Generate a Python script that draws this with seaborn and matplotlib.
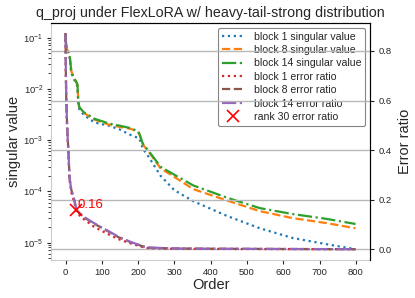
import pandas as pd
import seaborn as sns
import matplotlib.pyplot as plt

# Singular values (left, log axis)
sv_order = [0, 1, 3, 6, 11, 16, 22, 30, 33, 35, 38, 50, 80, 120, 150, 180, 200,
            204, 213, 230, 262, 300, 352, 445, 535, 625, 718, 799]
sv_block1 = [0.12, 0.08, 0.06, 0.05, 0.042, 0.02, 0.016, 0.0125, 0.011, 0.0052, 0.0040,
             0.0031, 0.0022, 0.0019, 0.0016, 0.00125, 0.0011, 0.00105, 0.00068, 0.00046,
             0.00020, 0.000105, 0.000064, 0.000033, 0.000019, 0.0000123, 0.0000093, 0.0000074]
sv_block8 = [0.12, 0.083, 0.063, 0.055, 0.047, 0.022, 0.017, 0.0133, 0.0118, 0.0059, 0.0043,
             0.0034, 0.0025, 0.0020, 0.0018, 0.00165, 0.00145, 0.00127, 0.00082, 0.00058,
             0.00028, 0.00019, 0.00011, 0.000066, 0.000041, 0.000030, 0.000024, 0.000019]
sv_block14 = [0.12, 0.085, 0.065, 0.056, 0.048, 0.022, 0.017, 0.0135, 0.012, 0.0060, 0.0044,
              0.0035, 0.0026, 0.0021, 0.0019, 0.0017, 0.00148, 0.0013, 0.00085, 0.00060,
              0.00030, 0.00021, 0.00013, 0.000075, 0.000047, 0.000036, 0.000029, 0.000023]

# Error ratios (right axis)
er_order = [0, 1, 2, 4, 6, 8, 11, 16, 20, 25, 30, 40, 52, 80, 117, 145, 180, 216, 230,
            300, 400, 600, 799]
er_block1 = [0.87, 0.70, 0.60, 0.50, 0.44, 0.39, 0.28, 0.23, 0.21, 0.185, 0.155, 0.135,
             0.12, 0.09, 0.062, 0.042, 0.024, 0.008, 0.005, 0.003, 0.002, 0.0015, 0.001]
er_block8 = [0.87, 0.71, 0.61, 0.52, 0.45, 0.40, 0.29, 0.24, 0.22, 0.194, 0.16, 0.144,
             0.128, 0.103, 0.073, 0.05, 0.029, 0.011, 0.007, 0.004, 0.003, 0.002, 0.001]
er_block14 = [0.87, 0.72, 0.62, 0.52, 0.45, 0.40, 0.29, 0.24, 0.22, 0.195, 0.16, 0.145,
              0.13, 0.105, 0.075, 0.052, 0.03, 0.012, 0.008, 0.004, 0.003, 0.002, 0.001]

rank = 30
rank_ratio = 0.16

sv_df = pd.DataFrame({"Order": sv_order, "b1": sv_block1, "b8": sv_block8, "b14": sv_block14})
er_df = pd.DataFrame({"Order": er_order, "b1": er_block1, "b8": er_block8, "b14": er_block14})

sns.set_style("ticks")
plt.rcParams["font.family"] = ["Liberation Sans", "DejaVu Sans"]

fig = plt.figure(figsize=(4.15, 2.98), dpi=100)
ax1 = fig.add_axes([0.1229, 0.1275, 0.7687, 0.7963])
ax2 = ax1.twinx()

sns.lineplot(data=sv_df, x="Order", y="b1", ax=ax1, color="tab:blue", linestyle=":",
             lw=1.6, label="block 1 singular value")
sns.lineplot(data=sv_df, x="Order", y="b8", ax=ax1, color="tab:orange", linestyle="--",
             lw=1.6, label="block 8 singular value")
sns.lineplot(data=sv_df, x="Order", y="b14", ax=ax1, color="tab:green", linestyle="-.",
             lw=1.6, label="block 14 singular value")
ax1.set_yscale("log")

sns.lineplot(data=er_df, x="Order", y="b1", ax=ax2, color="tab:red", linestyle=":",
             lw=1.6, label="block 1 error ratio")
sns.lineplot(data=er_df, x="Order", y="b8", ax=ax2, color="tab:brown", linestyle="--",
             lw=1.6, label="block 8 error ratio")
sns.lineplot(data=er_df, x="Order", y="b14", ax=ax2, color="tab:purple", linestyle="-.",
             lw=1.6, label="block 14 error ratio")
ax2.plot([rank], [rank_ratio], "x", color="red", markersize=8, mew=1.2,
         linestyle="none", label=f"rank {rank} error ratio")
ax2.text(rank + 2, rank_ratio + 0.008, f"{rank_ratio:.2f}", color="red", fontsize=9.5)

ax1.set_xlabel("Order", fontsize=10.5, labelpad=1)
ax1.set_ylabel("singular value", fontsize=10.5, labelpad=2)
ax2.set_ylabel("Error ratio", fontsize=10.5, labelpad=4)
ax1.set_title("q_proj under FlexLoRA w/ heavy-tail-strong distribution", fontsize=10.3, pad=4)

ax1.tick_params(labelsize=6.8, colors="0.15", length=3, pad=2.5)
ax1.tick_params(which="minor", length=2)
ax2.tick_params(labelsize=6.8, colors="0.15", length=3)
ax2.set_yticks([0.0, 0.2, 0.4, 0.6, 0.8])
ax2.grid(True, color="#b8b8b8", lw=1)
ax1.grid(False)

for s in ["left", "bottom"]:
    ax1.spines[s].set_color("#cccccc")
    ax2.spines[s].set_visible(False)
for s in ["top", "right"]:
    ax2.spines[s].set_color("black")

h1, l1 = ax1.get_legend_handles_labels()
h2, l2 = ax2.get_legend_handles_labels()
ax2.get_legend().remove()
leg = ax1.legend(h1 + h2, l1 + l2, loc="upper right", fontsize=7.6, frameon=True,
                 fancybox=True, handlelength=2.2, labelspacing=0.32, borderpad=0.35)
leg.get_frame().set_edgecolor("0.4")
leg.get_frame().set_linewidth(0.8)

fig.savefig("out.png", dpi=100)
